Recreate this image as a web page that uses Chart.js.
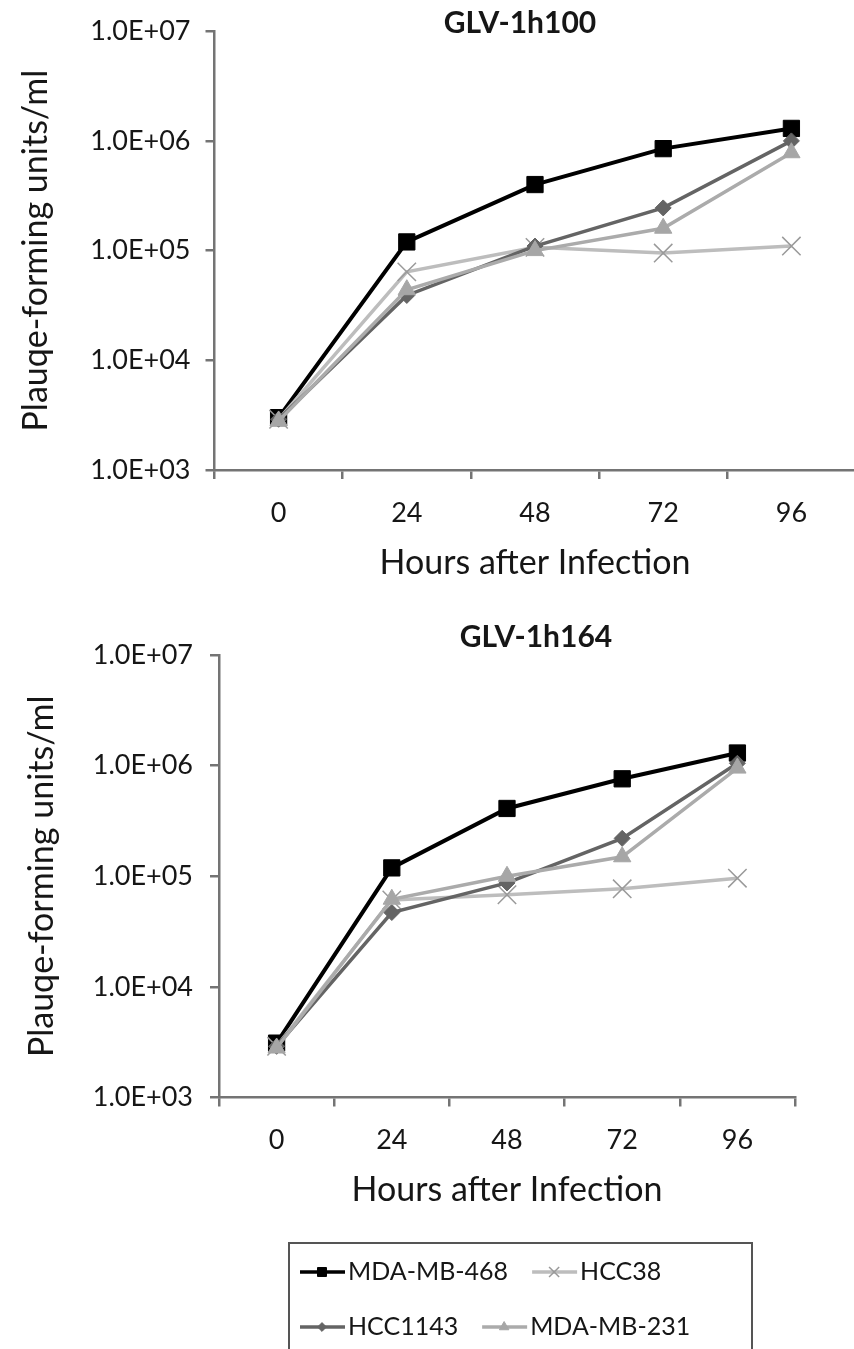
<!DOCTYPE html>
<html>
<head>
<meta charset="utf-8">
<script src="https://cdn.jsdelivr.net/npm/chart.js@4.4.1/dist/chart.umd.min.js"></script>
<style>
  html, body { margin: 0; padding: 0; background: #fff; overflow: hidden; }
  body { width: 854px; height: 1349px; position: relative; }
  canvas { position: absolute; left: 0; }
  #top { top: 0; }
  #bottom { top: 600px; }
</style>
</head>
<body>
<canvas id="top" width="870" height="600"></canvas>
<canvas id="bottom" width="854" height="749"></canvas>
<script>
const hours = ['0', '24', '48', '72', '96'];
const cellLines = ['MDA-MB-468', 'HCC38', 'HCC1143', 'MDA-MB-231'];
const yTickValues = [1e3, 1e4, 1e5, 1e6, 1e7];
const yTickLabels = ['1.0E+03', '1.0E+04', '1.0E+05', '1.0E+06', '1.0E+07'];

// GLV-1h100 (pfu/ml)
const h100Mda468 = [3000, 120000, 400000, 850000, 1300000];
const h100Hcc38 = [2900, 64000, 107000, 95000, 110000];
const h100Hcc1143 = [2900, 39000, 110000, 245000, 1000000];
const h100Mda231 = [2800, 44000, 100000, 160000, 780000];

// GLV-1h164 (pfu/ml)
const h164Mda468 = [3100, 119000, 410000, 760000, 1300000];
const h164Hcc38 = [2900, 61000, 68000, 77000, 96000];
const h164Hcc1143 = [2900, 47000, 87000, 220000, 1050000];
const h164Mda231 = [2800, 62000, 100000, 150000, 950000];

const FONT = 'Lato, "Open Sans", sans-serif';
const TEXT = '#161616';
const AXIS = '#747474';

const seriesStyles = [
  { line: '#000000', width: 4, point: 'rect', radius: 11.5, fill: '#000000', edge: '#000000', edgeWidth: 1 },
  { line: '#bdbdbd', width: 3.5, point: 'crossRot', radius: 13, fill: '#9a9a9a', edge: '#9a9a9a', edgeWidth: 1.5 },
  { line: '#646464', width: 3.5, point: 'rectRot', radius: 8, fill: '#646464', edge: '#646464', edgeWidth: 1 },
  { line: '#ababab', width: 3.5, point: 'triangle', radius: 10, fill: '#a6a6a6', edge: '#a6a6a6', edgeWidth: 1 }
];

// title drawn inside the plot, like the original figure
const panelTitle = {
  id: 'panelTitle',
  afterDraw(chart, args, opts) {
    const ctx = chart.ctx;
    ctx.save();
    ctx.font = 'bold 30px ' + FONT;
    ctx.fillStyle = TEXT;
    ctx.textAlign = 'center';
    ctx.textBaseline = 'middle';
    ctx.fillText(opts.text, opts.x, opts.y);
    ctx.restore();
  }
};

// boxed legend with line + marker samples
const boxLegend = {
  id: 'boxLegend',
  afterDraw(chart, args, opts) {
    if (!opts.rows) return;
    const ctx = chart.ctx;
    ctx.save();
    ctx.strokeStyle = '#555555';
    ctx.lineWidth = 2;
    ctx.strokeRect(opts.left, opts.top, opts.width, opts.height);
    ctx.font = '25px ' + FONT;
    ctx.textBaseline = 'middle';
    opts.rows.forEach((row, r) => {
      let x = opts.left + 11;
      const y = opts.top + opts.firstRow + r * opts.rowGap;
      row.forEach(i => {
        const ds = chart.data.datasets[i];
        ctx.strokeStyle = ds.borderColor;
        ctx.lineWidth = 3.5;
        ctx.beginPath();
        ctx.moveTo(x, y);
        ctx.lineTo(x + 45, y);
        ctx.stroke();
        ctx.fillStyle = ds.pointBackgroundColor;
        ctx.strokeStyle = ds.pointBorderColor;
        ctx.lineWidth = ds.pointBorderWidth;
        Chart.helpers.drawPoint(ctx, {
          pointStyle: ds.pointStyle, radius: ds.pointRadius * 0.55,
          borderWidth: ds.pointBorderWidth, rotation: 0
        }, x + 22, y);
        ctx.fillStyle = TEXT;
        ctx.fillText(ds.label, x + 48, y);
        x += 48 + ctx.measureText(ds.label).width + 24;
      });
    });
    ctx.restore();
  }
};

function buildChart(id, title, series, geo) {
  return new Chart(document.getElementById(id), {
    type: 'line',
    data: {
      labels: hours,
      datasets: series.map((values, i) => {
        const s = seriesStyles[i];
        return {
          label: cellLines[i],
          data: values,
          borderColor: s.line,
          borderWidth: s.width,
          pointStyle: s.point,
          pointRadius: s.radius,
          pointBackgroundColor: s.fill,
          pointBorderColor: s.edge,
          pointBorderWidth: s.edgeWidth,
          tension: 0,
          clip: false,
          order: series.length - 1 - i
        };
      })
    },
    options: {
      responsive: false,
      animation: false,
      events: [],
      layout: { padding: geo.padding },
      plugins: {
        legend: { display: false },
        tooltip: { enabled: false },
        panelTitle: { text: title, x: geo.titleX, y: geo.titleY },
        boxLegend: geo.legend || {}
      },
      scales: {
        x: {
          type: 'category',
          offset: true,
          grid: { display: true, offset: true, drawOnChartArea: false, drawTicks: true, tickLength: 9, color: AXIS, lineWidth: 2.5 },
          border: { display: true, color: AXIS, width: 2.5 },
          ticks: { color: TEXT, font: { family: FONT, size: 27 }, padding: 18, maxRotation: 0 },
          title: { display: true, text: 'Hours after Infection', color: TEXT, font: { family: FONT, size: 34 }, padding: { top: 0, bottom: 17 } },
          afterFit: s => { s.height = 130; }
        },
        y: {
          type: 'logarithmic',
          min: 1e3,
          max: 1e7,
          afterBuildTicks: s => { s.ticks = yTickValues.map(v => ({ value: v })); },
          grid: { display: true, drawOnChartArea: false, drawTicks: true, tickLength: 9, color: AXIS, lineWidth: 2.5 },
          border: { display: true, color: AXIS, width: 2.5 },
          ticks: { color: TEXT, font: { family: FONT, size: 27 }, padding: geo.yPad, callback: (v, i) => yTickLabels[i] },
          title: { display: true, text: 'Plauqe-forming units/ml', color: TEXT, font: { family: FONT, size: 34 }, padding: { top: geo.yTitlePad, bottom: 0 } },
          afterFit: s => { s.width = geo.yWidth; }
        }
      }
    },
    plugins: [panelTitle, boxLegend]
  });
}

buildChart('top', 'GLV-1h100', [h100Mda468, h100Hcc38, h100Hcc1143, h100Mda231], {
  padding: { top: 23, right: 10, bottom: 0, left: 0 },
  yWidth: 214.5, yPad: 15, yTitlePad: 16,
  titleX: 520, titleY: 23
});

buildChart('bottom', 'GLV-1h164', [h164Mda468, h164Hcc38, h164Hcc1143, h164Mda231], {
  padding: { top: 55, right: 59, bottom: 121.5, left: 0 },
  yWidth: 219, yPad: 17, yTitlePad: 22,
  titleX: 536, titleY: 37,
  legend: { left: 289, top: 643, width: 463, height: 114, firstRow: 29, rowGap: 55, rows: [[0, 1], [2, 3]] }
});
</script>
</body>
</html>
